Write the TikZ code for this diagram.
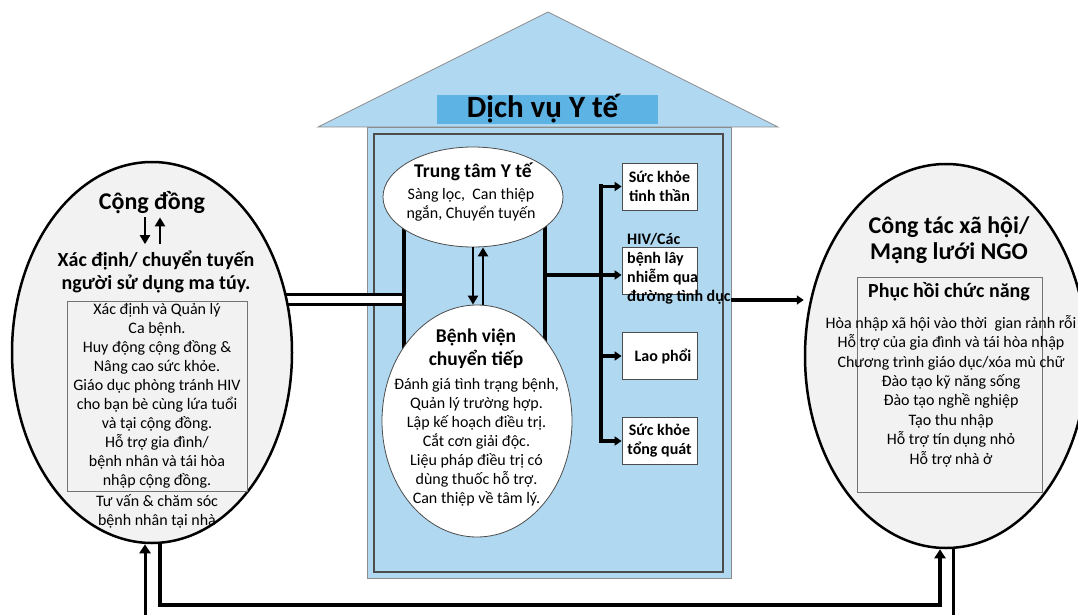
\documentclass[tikz,border=0pt]{standalone}
\usepackage{fontspec}
\setmainfont{Carlito}
\usetikzlibrary{arrows.meta,shapes.geometric,calc}
\definecolor{hblue}{RGB}{176,216,240}
\definecolor{tblue}{RGB}{93,179,227}
\definecolor{egray}{RGB}{242,242,242}
\pgfdeclarelayer{house}
\pgfdeclarelayer{bg}
\pgfsetlayers{house,bg,main}
\begin{document}
\begin{tikzpicture}[x=1pt,y=-1pt,
  bodytxt/.style={inner sep=0pt, align=center, font=\fontsize{16}{19}\selectfont},
  hbig/.style={inner sep=0pt, align=center, font=\bfseries\fontsize{24}{26.5}\selectfont},
  hmid/.style={inner sep=0pt, align=center, font=\bfseries\fontsize{20}{23}\selectfont},
  hsm/.style={inner sep=0pt, align=center, font=\bfseries\fontsize{19.5}{23}\selectfont},
  outer/.style={ellipse, draw, line width=2.5pt, fill=egray, inner sep=0pt},
  innerell/.style={ellipse, draw=black!70, line width=0.8pt, fill=white, inner sep=0pt},
  svc/.style={rectangle, draw=black!70, line width=0.8pt, fill=white, minimum width=75pt, minimum height=47pt, inner sep=0pt, align=center, font=\bfseries\fontsize{16}{19}\selectfont},
  listbox/.style={rectangle, draw=black!55, line width=0.8pt, inner sep=0pt},
  bar/.style={line width=4pt},
  arr/.style={line width=2.5pt, -{Triangle[length=9pt,width=10pt]}},
  arrs/.style={line width=3.5pt, -{Triangle[length=7pt,width=9pt]}},
  loop/.style={line width=#1, line join=miter, -{Triangle[length=9pt,width=11pt]}}
]
\useasboundingbox (0,0) rectangle (1078,615);

% house
\begin{pgfonlayer}{house}
\draw[fill=hblue, draw=black!45, line width=0.8pt] (367,127) rectangle (731,578);
\draw[fill=hblue, draw=black!45, line width=0.8pt] (318,127) -- (548,12) -- (778,127) -- cycle;
\draw[draw=black!70, line width=1.5pt] (374,134) rectangle (723,572);
\end{pgfonlayer}
\node[fill=tblue, minimum width=221pt, minimum height=29pt, inner sep=0pt] (tband) at (547.5,109.5) {};
\node[inner sep=0pt, font=\bfseries\fontsize{31}{31}\selectfont] (title) at (542.5,108.5) {Dịch vụ Y tế};

% outer ellipses
\node[outer, minimum width=280pt, minimum height=381pt] (L) at (152,352.5) {};
\node[outer, minimum width=282pt, minimum height=384pt] (R) at (946,356) {};

% left ellipse content
\node[hbig] (cd) at (152,203) {Cộng đồng};
\node[hmid] (xd) at (156,271.5) {Xác định/ chuyển tuyến\\người sử dụng ma túy.};
\node[listbox, minimum width=180pt, minimum height=190pt, bodytxt] (lbox) at (157,396)
  {Xác định và Quản lý\\Ca bệnh.\\Huy động cộng đồng \&\\Nâng cao sức khỏe.\\Giáo dục phòng tránh HIV\\cho bạn bè cùng lứa tuổi\\và tại cộng đồng.\\Hỗ trợ gia đình/\\bệnh nhân và tái hòa\\nhập cộng đồng.};
\node[bodytxt] (lt) at (157,511.5) {Tư vấn \& chăm sóc\\bệnh nhân tại nhà};
\coordinate (a1) at (145,0);
\coordinate (a2) at (160,0);
\draw[arr, shorten <=3pt, shorten >=6pt] (a1 |- cd.south) -- (a1 |- xd.north);
\draw[arr, shorten <=6pt, shorten >=3pt] (a2 |- xd.north) -- (a2 |- cd.south);

% right ellipse content
\node[hbig] (ct) at (949,240) {Công tác xã hội/\\Mạng lưới NGO};
\node[listbox, minimum width=185pt, minimum height=215pt] (rbox) at (949.5,384.5) {};
\node[hmid] (ph) at (949,292) {Phục hồi chức năng};
\node[bodytxt, font=\fontsize{16}{19.4}\selectfont] (rl) at (951,391)
  {Hòa nhập xã hội vào thời~ gian rảnh rỗi\\Hỗ trợ của gia đình và tái hòa nhập\\Chương trình giáo dục/xóa mù chữ\\Đào tạo kỹ năng sống\\Đào tạo nghề nghiệp\\Tạo thu nhập\\Hỗ trợ tín dụng nhỏ\\Hỗ trợ nhà ở};

% inner ellipses
\node[innerell, minimum width=180pt, minimum height=100pt] (TT) at (473,197) {};
\node[hsm] (tth) at (473,172) {Trung tâm Y tế};
\node[bodytxt] (ttb) at (471,204.5) {Sàng lọc,~ Can thiệp\\ngắn, Chuyển tuyến};
\node[innerell, minimum width=190pt, minimum height=232pt] (BV) at (477,421) {};
\node[hsm] (bvh) at (476,348.5) {Bệnh viện\\chuyển tiếp};
\node[bodytxt] (bvb) at (476.5,442.5) {Đánh giá tình trạng bệnh,\\Quản lý trường hợp.\\Lập kế hoạch điều trị.\\Cắt cơn giải độc.\\Liệu pháp điều trị có\\dùng thuốc hỗ trợ.\\Can thiệp về tâm lý.};

% bars and double line (behind ellipses)
\coordinate (lb) at (404,0);
\coordinate (rb) at (545,0);
\coordinate (dly) at (0,299);
\begin{pgfonlayer}{bg}
\draw[line width=3pt, double=white, double distance=7pt] (L.center |- dly) -- (lb |- dly);
\draw[bar] (TT.center -| lb) -- (BV.center -| lb);
\draw[bar] (TT.center -| rb) -- (BV.center -| rb);
\end{pgfonlayer}

% arrows between TT and BV
\coordinate (ua) at ([xshift=10pt]TT.south);
\draw[arr] (TT.south) -- (TT.south |- BV.north);
\draw[arr] (ua |- BV.north) -- (ua);

% service boxes
\node[svc] (SK1) at (659.5,186.5) {Sức khỏe\\tinh thần};
\node[svc] (HIV) at (659.5,271) {};
\node[svc] (LAO) at (659.5,356) {\hspace*{7pt}Lao phổi};
\node[svc] (SK2) at (659.5,441) {Sức khỏe\\tổng quát};
\node[anchor=west, align=left, inner sep=0pt, font=\bfseries\fontsize{16}{19}\selectfont] (hivt) at (627,268.5) {HIV/Các\\bệnh lây\\nhiễm qua\\đường tình dục};

\coordinate (vb) at (601,0);
\coordinate (hy) at (0,275);
\draw[line width=4.5pt, line cap=rect] (vb |- SK1.west) -- (vb |- SK2.west);
\draw[arrs] (rb |- hy) -- (HIV.west |- hy);
\draw[arrs] (vb |- SK1.west) -- (SK1.west);
\draw[arrs] (vb |- LAO.west) -- (LAO.west);
\draw[arrs] (vb |- SK2.west) -- (SK2.west);

% HIV -> social work
\coordinate (ay) at (0,300);
\draw[arrs] (hivt.east |- ay) -- (R.west |- ay);

% bottom loops
\coordinate (ls1) at ([xshift=8pt]L.south);
\coordinate (rs1) at ([xshift=-6pt]R.south);
\coordinate (ybot) at (0,605);
\draw[loop=4pt] (ls1) -- (ls1 |- ybot) -- (rs1 |- ybot) -- (rs1);
\coordinate (rs2) at ([xshift=7pt]R.south);
\coordinate (ls2) at ([xshift=-7pt]L.south);
\coordinate (yoff) at (0,640);
\draw[loop=3pt] (rs2) -- (rs2 |- yoff) -- (ls2 |- yoff) -- (ls2);
\end{tikzpicture}
\end{document}
